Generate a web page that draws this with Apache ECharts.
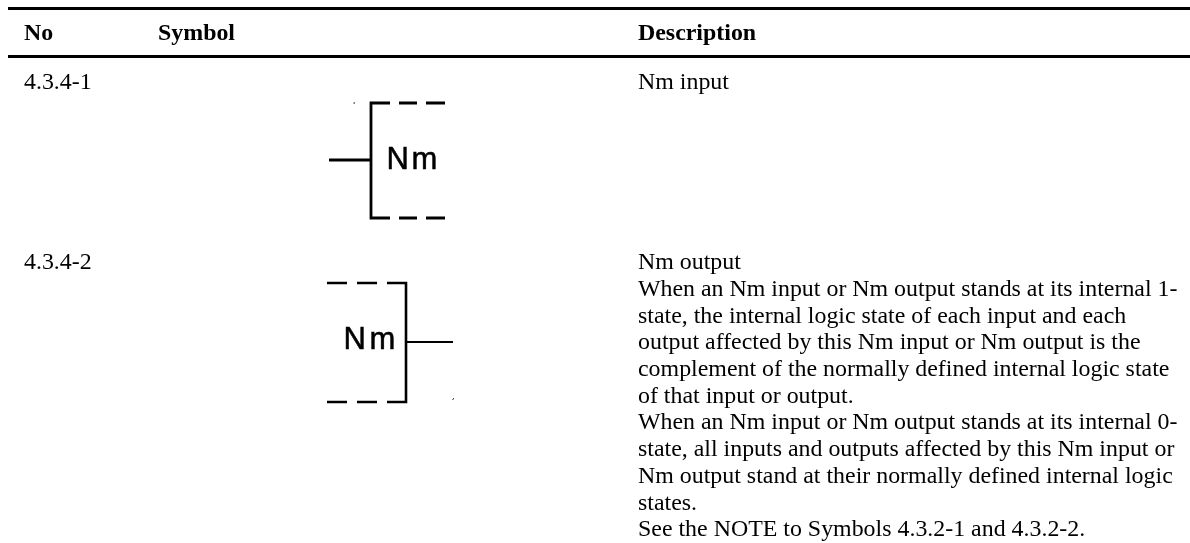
<!DOCTYPE html>
<html>
<head>
<meta charset="utf-8">
<style>
  html, body { margin: 0; padding: 0; background: #fff; }
  #main { width: 1190px; height: 543px; }
</style>
<script src="https://cdn.jsdelivr.net/npm/echarts@6/dist/echarts.min.js"></script>
</head>
<body>
<div id="main"></div>
<script>
// table text
var headers = ['No', 'Symbol', 'Description']
var rowNumbers = ['4.3.4-1', '4.3.4-2']
var descInput = ['Nm input']
var descOutput = [
    'Nm output',
    'When an Nm input or Nm output stands at its internal 1-',
    'state, the internal logic state of each input and each',
    'output affected by this Nm input or Nm output is the',
    'complement of the normally defined internal logic state',
    'of that input or output.',
    'When an Nm input or Nm output stands at its internal 0-',
    'state, all inputs and outputs affected by this Nm input or',
    'Nm output stand at their normally defined internal logic',
    'states.',
    'See the NOTE to Symbols 4.3.2-1 and 4.3.2-2.'
]
// table rules and symbol outlines, x then y in page units
var ruleTop = [[8, 8.5], [1190, 8.5]]
var ruleHead = [[8, 56.5], [1190, 56.5]]
var inputBracket = [
    [390, 103], [371, 103], [371, 218], [390, 218], null,
    [399, 103], [417, 103], null, [426, 103], [445, 103], null,
    [399, 218], [417, 218], null, [426, 218], [445, 218], null,
    [329, 160], [371, 160]
]
var outputBracket = [
    [387, 283], [406, 283], [406, 402], [387, 402], null,
    [327, 283], [347, 283], null, [357, 283], [377, 283], null,
    [327, 402], [347, 402], null, [357, 402], [377, 402]
]
var outputStem = [[406, 342], [453, 342]]
// two stray scan marks
var specks = [[353.5, 103], [355, 103], null, [452.5, 399.5], [454, 398.5]]

var colX = [24, 158, 638]
var headY = 34
var rowY = [83, 263]
var lineGap = 26.7

function lineSeries(data, width) {
    return {
        type: 'line',
        data: data.map(function (p) { return p ? p : [null, null] }),
        showSymbol: false,
        silent: true,
        connectNulls: false,
        animation: false,
        lineStyle: { color: '#000', width: width, cap: 'butt', join: 'miter', opacity: 1 }
    }
}

function textSeries(items, font) {
    return {
        type: 'scatter',
        symbolSize: 0,
        silent: true,
        animation: false,
        data: items.map(function (t) { return { value: [t.x, t.y], name: t.text } }),
        label: Object.assign({
            show: true,
            position: 'right',
            distance: 0,
            color: '#000',
            opacity: 1,
            formatter: '{b}'
        }, font)
    }
}

var serif = 'Liberation Serif'
var bodyItems = []
rowNumbers.forEach(function (n, i) {
    bodyItems.push({ x: colX[0], y: rowY[i], text: n })
})
descInput.forEach(function (s, i) {
    bodyItems.push({ x: colX[2], y: rowY[0] + i * lineGap, text: s })
})
descOutput.forEach(function (s, i) {
    bodyItems.push({ x: colX[2], y: rowY[1] + i * lineGap, text: s })
})
var headItems = headers.map(function (h, i) {
    return { x: colX[i], y: headY, text: h }
})
// the letters sit wider apart than the font's own spacing
var symbolItems = [
    { x: 386.5, y: 160, text: 'N' },
    { x: 411.5, y: 160, text: 'm' },
    { x: 343.5, y: 340, text: 'N' },
    { x: 369.5, y: 340, text: 'm' }
]

var chart = echarts.init(document.getElementById('main'))
chart.setOption({
    backgroundColor: '#fff',
    animation: false,
    grid: { left: 0, right: 0, top: 0, bottom: 0 },
    xAxis: { type: 'value', min: 0, max: 1190, show: false },
    yAxis: { type: 'value', min: 0, max: 543, inverse: true, show: false },
    series: [
        lineSeries(ruleTop, 3),
        lineSeries(ruleHead, 3),
        lineSeries(inputBracket, 2.8),
        lineSeries(outputBracket, 2.6),
        lineSeries(outputStem, 2),
        lineSeries(specks, 1),
        textSeries(headItems, { fontFamily: serif, fontSize: 23.9, fontWeight: 'bold' }),
        textSeries(bodyItems, { fontFamily: serif, fontSize: 23.9 }),
        textSeries(symbolItems, { fontFamily: 'Liberation Sans', fontSize: 31, textBorderColor: '#000', textBorderWidth: 0.5 })
    ]
})
</script>
</body>
</html>
